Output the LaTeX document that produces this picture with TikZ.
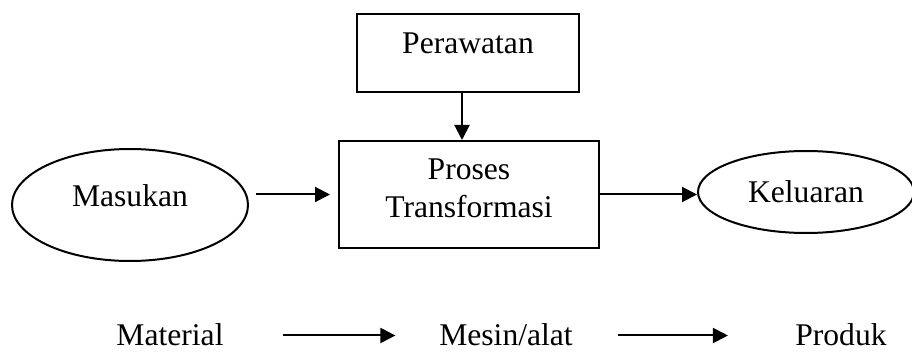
\documentclass[tikz,border=0pt]{standalone}
\usepackage{fontspec}
\setmainfont{Liberation Serif}
\usetikzlibrary{shapes.geometric,arrows.meta}

\begin{document}
\begin{tikzpicture}[x=0.5pt,y=0.5pt,
		font=\fontsize{15.8pt}{19pt}\selectfont,
		>={Triangle[length=7.5pt,width=7.5pt]},
		kotak/.style={draw,line width=1pt,rectangle,inner sep=0pt,text height=10.5pt},
		elips/.style={draw,line width=1pt,ellipse,inner sep=0pt,text height=10.5pt},
		teks/.style={inner sep=0pt,anchor=base,text height=10.5pt,text depth=0pt},
		panah/.style={->,line width=1pt}]
			\useasboundingbox (0,0) rectangle (912,354);
			\node[kotak,minimum width=111pt,minimum height=39pt,text depth=9.5pt] (per) at (468,301) {Perawatan};
			\node[kotak,align=center,minimum width=130pt,minimum height=53.5pt,text height=29.5pt,text depth=6pt] (pro) at (469,159.5) {Proses\\Transformasi};
			\node[elips,minimum width=118pt,minimum height=56pt,text depth=8.5pt] (mas) at (130,149) {Masukan};
			\node[elips,minimum width=108pt,minimum height=41pt,text depth=0pt] (kel) at (806,162) {Keluaran};
			\node[teks] (mat) at (170,8) {Material};
			\node[teks] (mes) at (506,8) {Mesin/alat};
			\node[teks] (prd) at (841,8) {Produk};
			\draw[panah] ([xshift=-3pt]per.south) -- ([xshift=-3pt]per.south |- pro.north);
			\draw[panah,shorten <=3.5pt,shorten >=4pt] (mas.east |- pro.west) -- (pro.west);
			\draw[panah] (pro.east) -- (pro.east -| kel.west);
			\draw[panah,shorten <=29.5pt,shorten >=21.75pt] (mat) -- (mes);
			\draw[panah,shorten <=22.25pt,shorten >=33.5pt] (mes) -- (prd);
		\end{tikzpicture}
\end{document}
